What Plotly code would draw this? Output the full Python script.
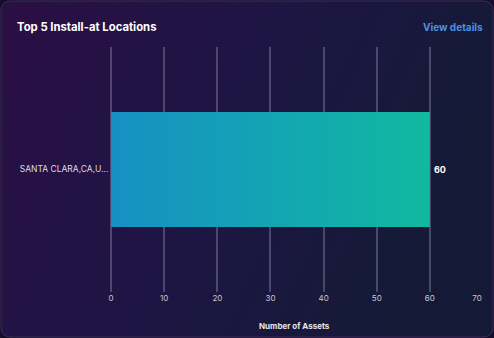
import base64
import plotly.graph_objects as go

W, H = 494, 338

locations = ["SANTA CLARA,CA,U..."]
asset_counts = [60]
x_ticks = [0, 10, 20, 30, 40, 50, 60]
last_tick = [70]
grid_ticks = [0, 10, 20, 30, 40, 50, 60]

# card background as an svg gradient
svg = f"""<svg xmlns='http://www.w3.org/2000/svg' width='{W}' height='{H}'>
<defs>
<linearGradient id='g' x1='0' y1='0' x2='1' y2='0.3'>
<stop offset='0' stop-color='#2b0f44'/>
<stop offset='0.5' stop-color='#1e1544'/>
<stop offset='1' stop-color='#141a36'/>
</linearGradient>
</defs>
<rect width='{W}' height='{H}' fill='#150d2a'/>
<rect x='1' y='1' width='{W-2}' height='{H-2}' rx='9' fill='url(#g)' stroke='#3a2d5a' stroke-width='1'/>
</svg>"""
bg = "data:image/svg+xml;base64," + base64.b64encode(svg.encode()).decode()

# plot area in pixels (range starts a bit below 0 so the 0 gridline is kept)
L, R, T, B = 109.5, 483, 47, 292
bar_w = 0.47
x_range = [-0.3, 70]
tick_font = dict(size=8, color="#c8c8d2", family="Inter")

fig = go.Figure()
notes = []
for i, (loc, v) in enumerate(zip(locations, asset_counts)):
    fig.add_trace(go.Scatter(
        x=[0, v, v, 0, 0],
        y=[i - bar_w / 2, i - bar_w / 2, i + bar_w / 2, i + bar_w / 2, i - bar_w / 2],
        mode="lines", fill="toself", line=dict(width=0),
        fillgradient=dict(type="horizontal",
                          colorscale=[[0, "#1690c4"], [1, "#11b9a0"]]),
        hoverinfo="skip", showlegend=False,
    ))
    notes.append(dict(text=f"<b>{v}</b>", x=v, y=i, xref="x", yref="y",
                      xanchor="left", yanchor="middle", xshift=2, showarrow=False,
                      font=dict(size=9, color="#ffffff", family="Inter")))

# helper axes: grid only (no line at 70) and the last tick label pulled inside
for ax in ["x2", "x3"]:
    fig.add_trace(go.Scatter(x=[0], y=[0], xaxis=ax, mode="markers",
                             marker=dict(opacity=0), showlegend=False, hoverinfo="skip"))

fig.update_layout(
    width=W, height=H, autosize=False,
    margin=dict(l=0, r=0, t=0, b=0),
    paper_bgcolor="#150d2a",
    plot_bgcolor="rgba(0,0,0,0)",
    images=[dict(source=bg, xref="paper", yref="paper", x=0, y=1,
                 sizex=1, sizey=1, sizing="stretch", layer="below")],
    xaxis=dict(domain=[L / W, R / W], range=x_range, tickvals=x_ticks,
               automargin=False,
               showgrid=False, zeroline=False, showline=False, ticks="",
               tickfont=tick_font),
    xaxis2=dict(domain=[L / W, R / W], range=x_range, tickvals=grid_ticks,
                overlaying="x", anchor="y", showticklabels=False, automargin=False,
                showgrid=True, gridcolor="rgba(200,200,230,0.28)", gridwidth=1.5,
                zeroline=False, showline=False),
    xaxis3=dict(domain=[L / W, R / W], range=x_range, tickvals=last_tick,
                overlaying="x", anchor="y", side="bottom", automargin=False,
                showgrid=False, zeroline=False, showline=False, ticks="",
                ticklabelshift=-6, tickfont=tick_font),
    yaxis=dict(domain=[1 - B / H, 1 - T / H], range=[-0.5, len(locations) - 0.5],
               tickvals=list(range(len(locations))), ticktext=locations,
               automargin=False,
               showgrid=False, zeroline=False, showline=False,
               ticks="", tickfont=dict(size=8.5, color="#dcdce6", family="Inter")),
    annotations=notes + [
        dict(text="<b>Top 5 Install-at Locations</b>", x=15 / W, y=1 - 27 / H,
             xref="paper", yref="paper", xanchor="left", yanchor="middle",
             showarrow=False, font=dict(size=11.3, color="#ffffff", family="Inter")),
        dict(text="<b>View details</b>", x=485 / W, y=1 - 27 / H,
             xref="paper", yref="paper", xanchor="right", yanchor="middle",
             showarrow=False, font=dict(size=10, color="#4a90e2", family="Inter")),
        dict(text="<b>Number of Assets</b>", x=(111 + 477) / 2 / W, y=1 - 326 / H,
             xref="paper", yref="paper", xanchor="center", yanchor="middle",
             showarrow=False, font=dict(size=8, color="#e6e6ee", family="Inter")),
    ],
)

fig.write_html("out.html", config={"displayModeBar": False, "responsive": False},
               post_script="document.body.style.margin='0';")
